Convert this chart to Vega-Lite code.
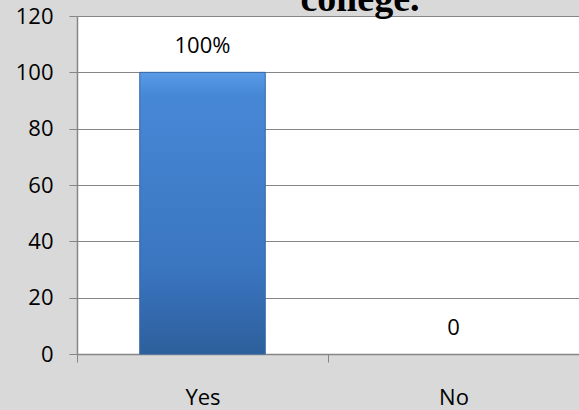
{
  "$schema": "https://vega.github.io/schema/vega-lite/v6.json",
  "autosize": "none",
  "width": 502,
  "height": 338,
  "padding": {"left": 77, "top": 16, "right": 0, "bottom": 56},
  "background": "#d9d9d9",
  "title": {"text": "college.", "font": "Liberation Serif", "fontSize": 38, "fontWeight": "bold", "color": "#000000", "offset": -44, "baseline": "alphabetic", "anchor": "middle", "dx": 32},
  "config": {
    "view": {"fill": "#ffffff", "stroke": null},
    "axis": {"labelFont": "Open Sans", "labelFontSize": 22, "labelColor": "#000000", "domainColor": "#868686", "tickColor": "#868686", "gridColor": "#868686"}
  },
  "data": {"values": [
    {"answer": "Yes", "value": 100, "label": "100%"},
    {"answer": "No", "value": 0, "label": "0"}
  ]},
  "encoding": {
    "x": {"field": "answer", "type": "nominal", "sort": ["Yes", "No"], "title": null,
      "scale": {"paddingInner": 0, "paddingOuter": 0},
      "axis": {"labelAngle": 0, "tickBand": "extent", "tickSize": 8, "labelPadding": 25, "domainWidth": 1.5}},
    "y": {"field": "value", "type": "quantitative", "title": null,
      "scale": {"domain": [0, 120]},
      "axis": {"values": [0, 20, 40, 60, 80, 100, 120], "tickSize": 8, "labelPadding": 16, "domainWidth": 1.5, "gridWidth": 1}}
  },
  "layer": [
    {"mark": {"type": "bar", "width": {"band": 0.5}, "stroke": "#3566a6", "strokeWidth": 1,
      "color": {"gradient": "linear", "x1": 0, "y1": 0, "x2": 0, "y2": 1,
        "stops": [{"offset": 0, "color": "#5a9be8"}, {"offset": 0.08, "color": "#4788d6"}, {"offset": 0.7, "color": "#3a75c0"}, {"offset": 1, "color": "#2d5f9c"}]}},
      "transform": [{"filter": "datum.value > 0"}]},
    {"mark": {"type": "text", "font": "Open Sans", "fontSize": 22, "color": "#000000", "baseline": "alphabetic", "dy": -19},
      "encoding": {"text": {"field": "label"}}}
  ]
}
